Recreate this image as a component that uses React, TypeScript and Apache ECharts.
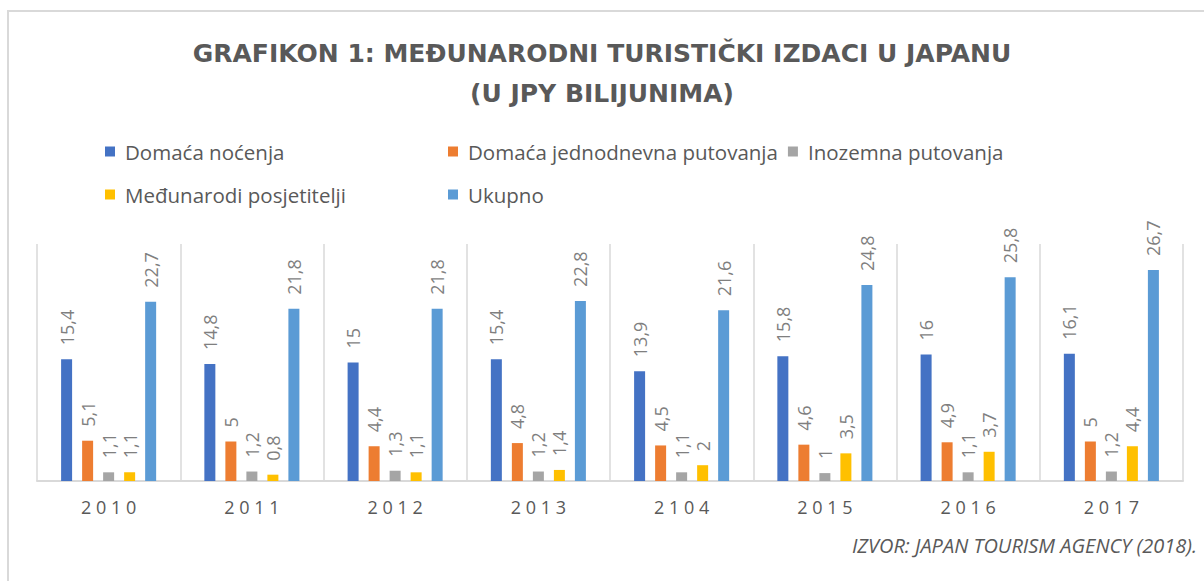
import React, { useEffect, useRef } from "react";
import * as echarts from "echarts";

const categories = ["2010", "2011", "2012", "2013", "2104", "2015", "2016", "2017"];
const domacaNocenja = [15.4, 14.8, 15, 15.4, 13.9, 15.8, 16, 16.1];
const domacaJednodnevna = [5.1, 5, 4.4, 4.8, 4.5, 4.6, 4.9, 5];
const inozemnaPutovanja = [1.1, 1.2, 1.3, 1.2, 1.1, 1, 1.1, 1.2];
const medunarodiPosjetitelji = [1.1, 0.8, 1.1, 1.4, 2, 3.5, 3.7, 4.4];
const ukupno = [22.7, 21.8, 21.8, 22.8, 21.6, 24.8, 25.8, 26.7];

const seriesNames = [
  "Domaća noćenja",
  "Domaća jednodnevna putovanja",
  "Inozemna putovanja",
  "Međunarodi posjetitelji",
  "Ukupno",
];
const seriesData = [domacaNocenja, domacaJednodnevna, inozemnaPutovanja, medunarodiPosjetitelji, ukupno];
const colors = ["#4472C4", "#ED7D31", "#A5A5A5", "#FFC000", "#5B9BD5"];

const FONT = "'Open Sans', sans-serif";
const TXT = "#595959";

export default function App() {
  const ref = useRef<HTMLDivElement>(null);
  useEffect(() => {
    if (!ref.current) return;
    const chart = echarts.init(ref.current, null, { renderer: "svg" });
    const legendBase = {
      orient: "horizontal",
      itemWidth: 10,
      itemHeight: 10,
      itemGap: 10,
      icon: "rect",
      textStyle: { fontFamily: FONT, fontSize: 20.5, color: TXT, padding: [0, 0, 0, 5] },
    };
    chart.setOption({
      animation: false,
      backgroundColor: "#ffffff",
      color: colors,
      title: {
        text: "GRAFIKON 1: MEĐUNARODNI TURISTIČKI IZDACI U JAPANU\n(U JPY BILIJUNIMA)",
        left: "center",
        top: 28,
        textStyle: {
          fontFamily: "'DejaVu Sans', sans-serif",
          fontSize: 25,
          fontWeight: "bold",
          color: TXT,
          lineHeight: 40,
        },
      },
      legend: [
        { ...legendBase, left: 100, top: 136, data: [seriesNames[0]] },
        { ...legendBase, left: 443, top: 136, data: [seriesNames[1], seriesNames[2]] },
        { ...legendBase, left: 100, top: 179, data: [seriesNames[3]] },
        { ...legendBase, left: 443, top: 179, data: [seriesNames[4]] },
      ],
      grid: { left: 37, right: 21, top: 244, bottom: 100 },
      xAxis: {
        type: "category",
        data: categories,
        axisLine: { show: true, lineStyle: { color: "#d9d9d9", width: 2 } },
        axisTick: { show: false },
        splitLine: { show: true, interval: 0, lineStyle: { color: "#d9d9d9", width: 1.5 } },
        axisLabel: {
          fontFamily: FONT,
          fontSize: 18,
          color: TXT,
          margin: 17,
          formatter: (v: string) => v.split("").join(" "),
        },
      },
      yAxis: { type: "value", min: 0, max: 30, show: false, splitLine: { show: false } },
      series: seriesNames.map((name, i) => ({
        name,
        type: "bar",
        data: seriesData[i],
        barWidth: 11,
        barGap: "91%",
        itemStyle: { color: colors[i] },
        label: {
          show: true,
          position: "top",
          rotate: 90,
          align: "left",
          verticalAlign: "middle",
          distance: 14,
          fontFamily: FONT,
          fontSize: 18,
          color: "#7f7f7f",
          formatter: (p: any) => String(p.value).replace(".", ","),
        },
      })),
      graphic: [
        {
          type: "rect",
          shape: { x: 8, y: 11, width: 1220, height: 600 },
          style: { fill: "none", stroke: "#d9d9d9", lineWidth: 2 },
          silent: true,
        },
        {
          type: "text",
          right: 7,
          top: 535,
          style: {
            text: "IZVOR: JAPAN TOURISM AGENCY (2018).",
            fontFamily: FONT,
            fontSize: 20,
            fontStyle: "italic",
            fill: TXT,
          },
        },
      ],
    });
    return () => chart.dispose();
  }, []);
  return (
    <div
      ref={ref}
      style={{ position: "fixed", left: 0, top: 0, width: 1204, height: 581 }}
    />
  );
}
